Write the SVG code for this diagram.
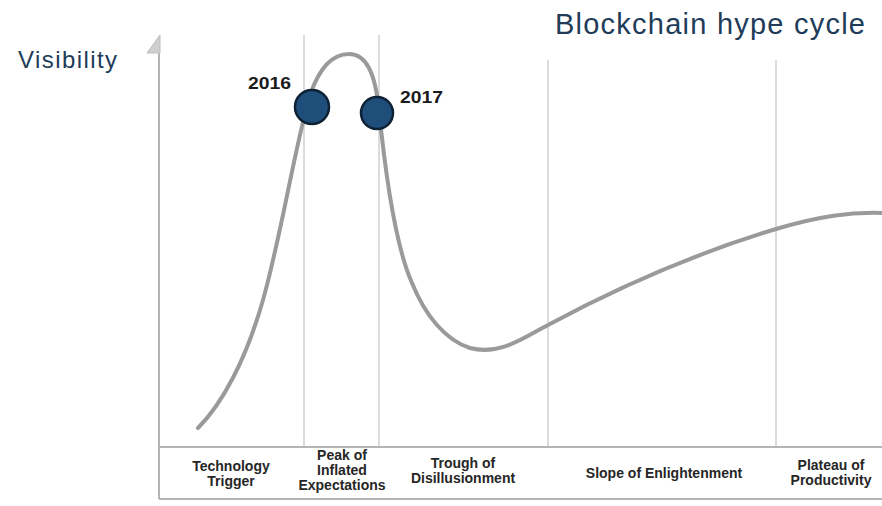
<svg xmlns="http://www.w3.org/2000/svg" width="882" height="506" viewBox="0 0 882 506">
  <style>
    .grid { stroke: #dcdcdc; stroke-width: 2; fill: none; }
    .axis { stroke: #b4b4b4; stroke-width: 2; fill: none; }
    .curve { stroke: #9a9a9a; stroke-width: 4; fill: none; stroke-linecap: round; }
    .year { fill: #1f4e7a; stroke: #0e2236; stroke-width: 2.5; }
    .title { font-family: "Liberation Sans", Arial, sans-serif; fill: #213c58; }
    .yr { font-family: "Liberation Sans", Arial, sans-serif; font-weight: bold; font-size: 17px; fill: #1a1a1a; }
    .phase { font-family: "Liberation Sans", Arial, sans-serif; font-weight: bold; font-size: 14px; fill: #262626; text-anchor: middle; }
  </style>
  <rect width="882" height="506" fill="#ffffff"/>

  <!-- headings -->
  <text class="title" x="18" y="68" font-size="24" textLength="99" lengthAdjust="spacing">Visibility</text>
  <text class="title" x="555" y="34" font-size="29" textLength="310" lengthAdjust="spacing">Blockchain hype cycle</text>

  <!-- phase dividers -->
  <g id="grid">
    <line class="grid" x1="304" y1="35" x2="304" y2="447"/>
    <line class="grid" x1="379" y1="35" x2="379" y2="447"/>
    <line class="grid" x1="548" y1="60" x2="548" y2="447"/>
    <line class="grid" x1="776" y1="60" x2="776" y2="447"/>
  </g>

  <!-- axes and label band -->
  <g id="axes">
    <line class="axis" x1="159" y1="50" x2="159" y2="499"/>
    <line class="axis" x1="159" y1="447" x2="882" y2="447"/>
    <line class="axis" x1="159" y1="499" x2="882" y2="499"/>
    <polygon points="160,35 160,53 147,53" fill="#cfcfcf" stroke="#bdbdbd" stroke-width="1"/>
  </g>

  <!-- hype curve -->
  <g id="connectors">
    <path class="curve" d="M198,428 C222,404 246,360 263,300 C282,232 294,150 310,95 C320,66 334,54 349,54 C366,54 375,72 379,110 C385,170 395,245 412,283 C425,315 445,340 470,348 C500,356 525,337 548,325 C600,297 680,258 776,229 C820,216 850,212 882,213"/>
  </g>

  <!-- year markers -->
  <g id="y2016">
    <circle class="year" cx="312" cy="107" r="17"/>
    <text class="yr" x="248" y="89" textLength="43" lengthAdjust="spacingAndGlyphs">2016</text>
  </g>
  <g id="y2017">
    <circle class="year" cx="377" cy="113" r="16"/>
    <text class="yr" x="400" y="103" textLength="43" lengthAdjust="spacingAndGlyphs">2017</text>
  </g>

  <!-- phase labels -->
  <g id="trigger">
    <text class="phase" x="231" y="471">Technology</text>
    <text class="phase" x="231" y="486">Trigger</text>
  </g>
  <g id="peak">
    <text class="phase" x="342" y="460">Peak of</text>
    <text class="phase" x="342" y="475">Inflated</text>
    <text class="phase" x="342" y="490">Expectations</text>
  </g>
  <g id="trough">
    <text class="phase" x="463" y="468">Trough of</text>
    <text class="phase" x="463" y="483">Disillusionment</text>
  </g>
  <g id="slope">
    <text class="phase" x="664" y="478">Slope of Enlightenment</text>
  </g>
  <g id="plateau">
    <text class="phase" x="831" y="470">Plateau of</text>
    <text class="phase" x="831" y="485">Productivity</text>
  </g>
</svg>
